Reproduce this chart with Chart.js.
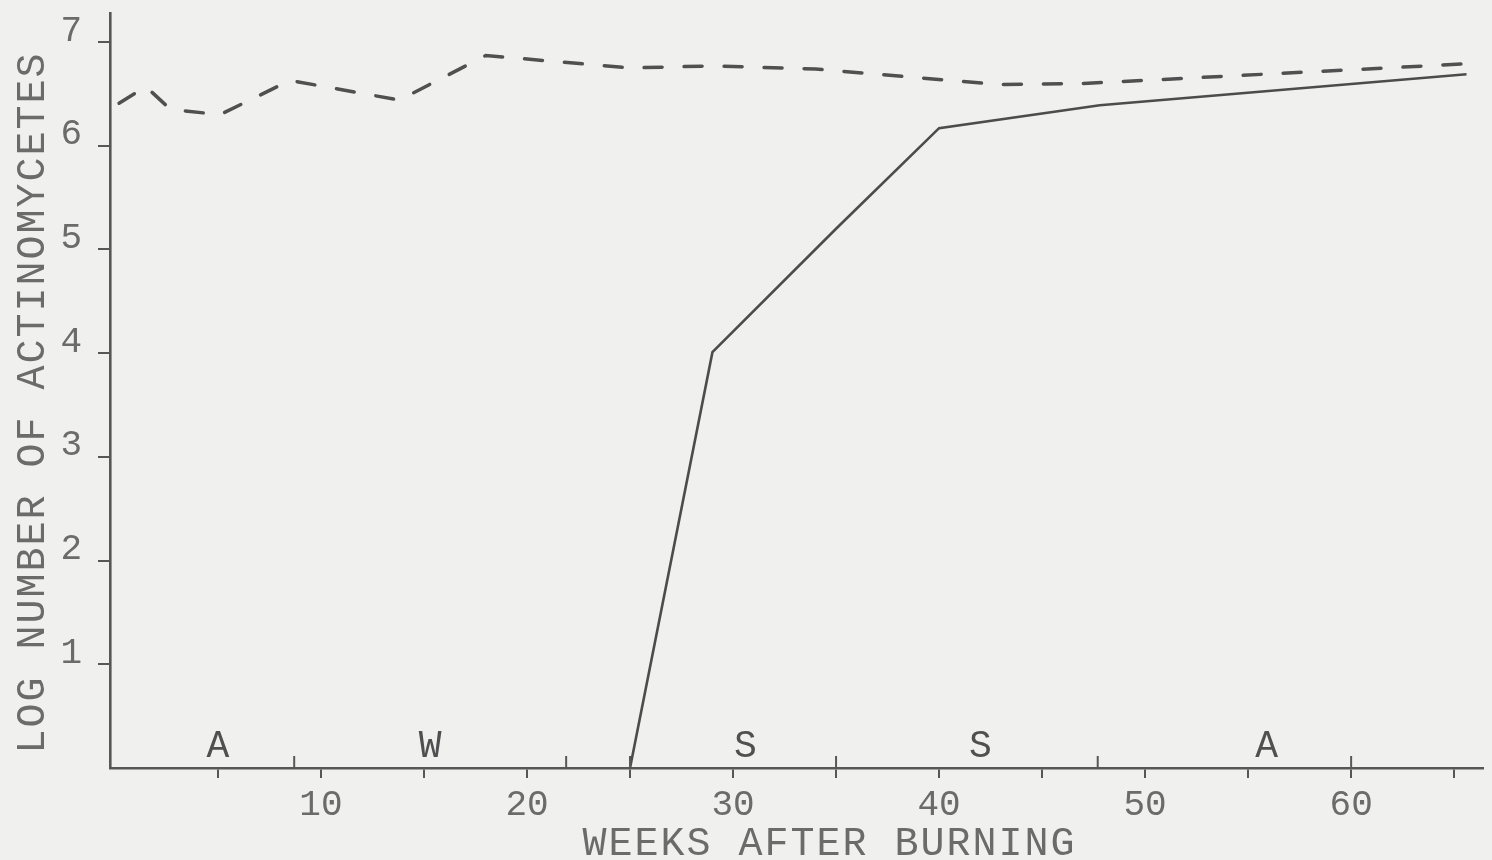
<!DOCTYPE html>
<html>
<head>
<meta charset="utf-8">
<title>Log number of actinomycetes after burning</title>
<script src="https://cdn.jsdelivr.net/npm/chart.js@4.4.1/dist/chart.umd.min.js"></script>
<style>
  html, body { margin: 0; padding: 0; background: #f0f0ef; }
  canvas { display: block; }
</style>
</head>
<body>
<canvas id="chart" width="1492" height="860"></canvas>
<script>
// Unburned soil (dashed line): log number of actinomycetes per week
const controlWeeks     = [0.2, 1.5, 2.7, 5.1, 8.5, 13.8, 18, 25, 29, 34, 42.9, 47, 65.6];
const controlLogCounts = [6.41, 6.57, 6.35, 6.30, 6.63, 6.44, 6.87, 6.75, 6.77, 6.74, 6.59, 6.60, 6.79];

// Burned soil (solid line)
const burnedWeeks     = [25, 29, 35, 40, 47.8, 65.6];
const burnedLogCounts = [0, 4.01, 5.2, 6.17, 6.39, 6.69];

// Axis ticks
const weekTicks     = [5, 10, 15, 20, 25, 30, 35, 40, 45, 50, 55, 60, 65];
const labelledWeeks = [10, 20, 30, 40, 50, 60];
const logTicks      = [1, 2, 3, 4, 5, 6, 7];

// Seasons along the time axis
const seasonLetters       = ['A', 'W', 'S', 'S', 'A'];
const seasonMidWeeks      = [5, 15.3, 30.6, 42, 55.9];
const seasonBoundaryWeeks = [8.7, 21.9, 25, 35, 47.7, 60];

const xTitle = 'WEEKS AFTER BURNING';
const yTitle = 'LOG NUMBER OF ACTINOMYCETES';

const INK = '#575757';
const TEXT = '#6b6b6b';
const TYPE = '"Liberation Mono", "Courier New", monospace';

const toPoints = (xs, ys) => xs.map((x, i) => ({ x, y: ys[i] }));

// Season marks above the time axis plus both axis titles
const seasonPlugin = {
  id: 'seasonMarks',
  afterDraw(chart) {
    const { ctx, chartArea, scales: { x, y } } = chart;
    const base = y.getPixelForValue(0);
    ctx.save();
    ctx.strokeStyle = INK;
    ctx.lineWidth = 2;
    seasonBoundaryWeeks.forEach(w => {
      const px = x.getPixelForValue(w);
      ctx.beginPath();
      ctx.moveTo(px, base);
      ctx.lineTo(px, base - 12);
      ctx.stroke();
    });

    ctx.fillStyle = '#505050';
    ctx.font = '38px ' + TYPE;
    ctx.textAlign = 'center';
    ctx.textBaseline = 'alphabetic';
    seasonLetters.forEach((s, i) => {
      ctx.fillText(s, x.getPixelForValue(seasonMidWeeks[i]), base - 11);
    });

    ctx.fillStyle = TEXT;
    ctx.font = '40px ' + TYPE;
    if ('letterSpacing' in ctx) ctx.letterSpacing = '2px';
    ctx.fillText(xTitle, (chartArea.left + chartArea.right) / 2 + 33, base + 87);

    ctx.translate(33, (chartArea.top + chartArea.bottom) / 2 + 12);
    ctx.rotate(-Math.PI / 2);
    ctx.textBaseline = 'middle';
    ctx.fillText(yTitle, 0, 0);
    ctx.restore();
  }
};

new Chart(document.getElementById('chart'), {
  type: 'line',
  data: {
    datasets: [
      {
        label: 'Unburned',
        data: toPoints(controlWeeks, controlLogCounts),
        borderColor: '#505050',
        borderWidth: 3.5,
        borderDash: [18, 22],
        borderCapStyle: 'round',
        pointRadius: 0,
        tension: 0
      },
      {
        label: 'Burned',
        data: toPoints(burnedWeeks, burnedLogCounts),
        borderColor: '#4c4c4c',
        borderWidth: 2.6,
        pointRadius: 0,
        tension: 0
      }
    ]
  },
  options: {
    responsive: false,
    animation: false,
    devicePixelRatio: 1,
    layout: { padding: { top: 13, right: 9, left: 0, bottom: 0 } },
    plugins: {
      legend: { display: false },
      tooltip: { enabled: false }
    },
    scales: {
      x: {
        type: 'linear',
        min: -0.24,
        max: 66.4,
        afterBuildTicks: s => { s.ticks = weekTicks.map(v => ({ value: v })); },
        afterFit: s => { s.height = 92; s.paddingLeft = 0; s.paddingRight = 0; },
        border: { display: true, color: INK, width: 2.6 },
        grid: {
          drawOnChartArea: false,
          drawTicks: true,
          tickLength: 10,
          tickColor: INK,
          tickWidth: 2,
          lineWidth: 2
        },
        ticks: {
          autoSkip: false,
          maxRotation: 0,
          padding: 6,
          color: TEXT,
          font: { family: TYPE, size: 36 },
          callback: v => labelledWeeks.includes(v) ? String(v) : ''
        }
      },
      y: {
        type: 'linear',
        min: 0,
        max: 7.28,
        afterBuildTicks: s => { s.ticks = logTicks.map(v => ({ value: v })); },
        afterFit: s => { s.width = 110; s.paddingTop = 0; s.paddingBottom = 0; },
        border: { display: true, color: INK, width: 2.6 },
        grid: {
          drawOnChartArea: false,
          drawTicks: true,
          tickLength: 12,
          tickColor: INK,
          tickWidth: 2,
          lineWidth: 2
        },
        ticks: {
          padding: 16,
          labelOffset: -11,
          color: TEXT,
          font: { family: TYPE, size: 36 },
          callback: v => String(v)
        }
      }
    }
  },
  plugins: [seasonPlugin]
});
</script>
</body>
</html>
